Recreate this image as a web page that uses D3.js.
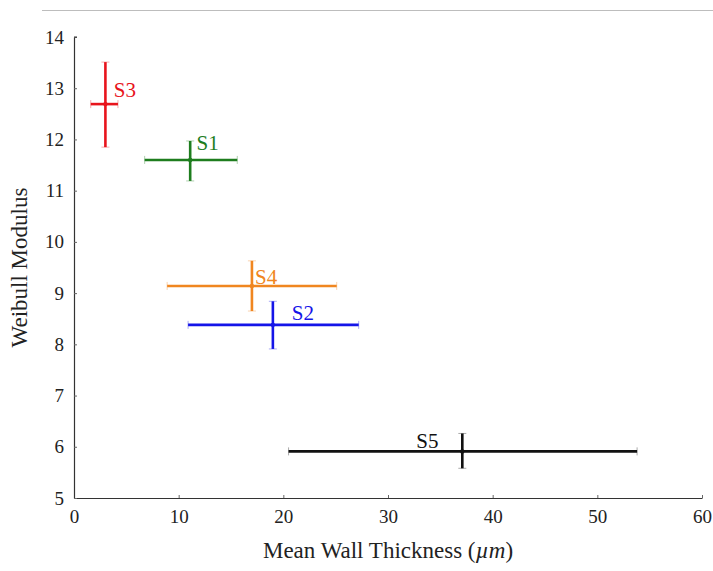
<!DOCTYPE html>
<meta charset="utf-8">
<script src="https://d3js.org/d3.v7.min.js"></script>
<style>
  body { margin: 0; background: #fff; }
  text { font-family: "Liberation Serif", "DejaVu Serif", serif; }
</style>
<div id="chart"></div>
<script>
  // samples
  const samples = ["S1", "S2", "S3", "S4", "S5"]
  const thickness = [11.1, 19.0, 3.0, 17.0, 37.1]      // mean wall thickness (µm)
  const thickLo = [6.75, 10.9, 1.6, 8.9, 20.5]
  const thickHi = [15.6, 27.2, 4.2, 25.1, 53.8]
  const modulus = [11.6, 8.38, 12.69, 9.14, 5.91]     // Weibull modulus
  const modLo = [11.19, 7.91, 11.85, 8.65, 5.58]
  const modHi = [11.97, 8.84, 13.51, 9.63, 6.26]
  // label anchors in data units
  const labelX = [11.7, 20.8, 3.8, 17.3, 32.7]
  const labelY = [11.79, 8.47, 12.83, 9.18, 5.97]
  const colors = ["#1e7d1e", "#1515e8", "#e8141c", "#f08620", "#111111"]
  const xTicks = [0, 10, 20, 30, 40, 50, 60]
  const yTicks = [5, 6, 7, 8, 9, 10, 11, 12, 13, 14]

  const W = 713, H = 571
  const margin = { top: 37, right: 11, bottom: 73, left: 74 }

  const svg = d3.select("#chart").append("svg")
    .attr("width", W).attr("height", H)

  // thin grey rule at top
  svg.append("line")
    .attr("x1", 42).attr("x2", W).attr("y1", 10.5).attr("y2", 10.5)
    .style("stroke", "#bdbdbd").style("stroke-width", 1)

  const x = d3.scaleLinear().domain([0, 60]).range([margin.left, W - margin.right])
  const y = d3.scaleLinear().domain([5, 14]).range([H - margin.bottom, margin.top])

  // axes with inward ticks
  const xAxis = svg.append("g")
    .attr("transform", `translate(0,${y(5)})`)
    .call(d3.axisBottom(x).tickValues(xTicks).tickSizeInner(-3).tickSizeOuter(0).tickPadding(9))
  const yAxis = svg.append("g")
    .attr("transform", `translate(${x(0)},0)`)
    .call(d3.axisLeft(y).tickValues(yTicks).tickSizeInner(-3).tickSizeOuter(0).tickPadding(10))

  ;[xAxis, yAxis].forEach(function (g) {
    g.attr("font-family", null)
    g.select(".domain").style("stroke", "#333").style("stroke-width", 1.2)
    g.selectAll(".tick line").style("stroke", "#666")
    g.selectAll(".tick text").style("font-size", "19px").style("fill", "#222")
      .style("font-family", "'Liberation Serif', serif")
  })
  xAxis.selectAll(".tick text").attr("dy", "0.85em")
  // short cap at top of y axis
  svg.append("line")
    .attr("x1", x(0)).attr("x2", x(0) + 3).attr("y1", y(14)).attr("y2", y(14))
    .style("stroke", "#333")

  const data = samples.map(function (s, i) {
    return { name: s, x: thickness[i], xl: thickLo[i], xh: thickHi[i],
      y: modulus[i], yl: modLo[i], yh: modHi[i], lx: labelX[i], ly: labelY[i], c: colors[i] }
  })

  const cap = 4
  const groups = svg.selectAll("g.pt").data(data).join("g").attr("class", "pt")

  // faint caps
  groups.each(function (d) {
    const g = d3.select(this)
    ;[[x(d.xl), y(d.y), 0], [x(d.xh), y(d.y), 0], [x(d.x), y(d.yl), 1], [x(d.x), y(d.yh), 1]].forEach(function (p) {
      g.append("line")
        .attr("x1", p[2] ? p[0] - cap : p[0]).attr("x2", p[2] ? p[0] + cap : p[0])
        .attr("y1", p[2] ? p[1] : p[1] - cap).attr("y2", p[2] ? p[1] : p[1] + cap)
        .style("stroke", d.c).style("stroke-width", 1).style("opacity", 0.35)
    })
  })

  // horizontal error bars
  groups.append("line")
    .attr("x1", d => x(d.xl)).attr("x2", d => x(d.xh))
    .attr("y1", d => y(d.y)).attr("y2", d => y(d.y))
    .style("stroke", d => d.c).style("stroke-width", 2.6)

  // vertical error bars
  groups.append("line")
    .attr("x1", d => x(d.x)).attr("x2", d => x(d.x))
    .attr("y1", d => y(d.yl)).attr("y2", d => y(d.yh))
    .style("stroke", d => d.c).style("stroke-width", 2.6)

  groups.append("circle")
    .attr("cx", d => x(d.x)).attr("cy", d => y(d.y)).attr("r", 2.2)
    .style("fill", d => d.c)

  groups.append("text")
    .attr("x", d => x(d.lx)).attr("y", d => y(d.ly))
    .text(d => d.name)
    .style("fill", d => d.c).style("font-size", "21px")

  // axis titles
  svg.append("text")
    .attr("x", x(30)).attr("y", 558)
    .style("text-anchor", "middle").style("font-size", "23px").style("fill", "#222")
    .html("Mean Wall Thickness (<tspan font-style='italic'>µm</tspan>)")

  svg.append("text")
    .attr("transform", `translate(27,${(y(5) + y(14)) / 2}) rotate(-90)`)
    .style("text-anchor", "middle").style("font-size", "23px").style("fill", "#222")
    .text("Weibull Modulus")
</script>
